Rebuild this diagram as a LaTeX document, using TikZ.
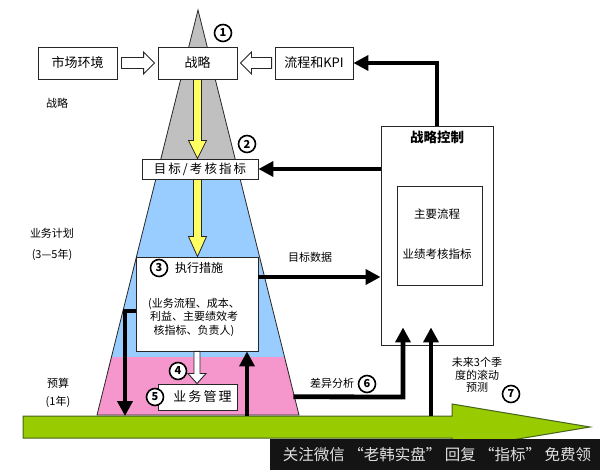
\documentclass[tikz,border=0pt]{standalone}
\usepackage{fontspec}
\setmainfont{Noto Sans CJK SC}
\usetikzlibrary{calc,arrows.meta}
\definecolor{pgray}{RGB}{192,192,192}
\definecolor{pblue}{RGB}{153,204,255}
\definecolor{ppink}{RGB}{245,150,205}
\definecolor{pyel}{RGB}{255,255,100}
\definecolor{pgreen}{RGB}{153,204,0}
\definecolor{pgreend}{RGB}{70,100,30}
\newcommand{\fsz}[1]{\fontsize{#1}{#1}\selectfont}
\begin{document}
\begin{tikzpicture}[x=1pt,y=-1pt,
  box/.style={draw=black!85, fill=white, line width=0.9pt, inner sep=0pt},
  num/.style={circle, draw=black, line width=1.6pt, fill=white, inner sep=0pt, minimum size=17pt, font=\fsz{11}\bfseries},
  lbl/.style={inner sep=0pt, font=\fsz{11}},
  thickarr/.style={line width=4.8pt, -{Triangle[length=15pt,width=15pt]}},
  hollow/.style={draw=black!85, fill=white, line width=0.9pt, line join=miter},
  yelarr/.style={draw=black!85, fill=pyel, line width=0.8pt, line join=miter}
]
\useasboundingbox (0,0) rectangle (600,470);
\fill[white] (0,0) rectangle (600,470);

% pyramid
\coordinate (apex) at (198,10);
\coordinate (pbl) at (97,415);
\coordinate (pbr) at (299,415);
\begin{scope}
  \clip (apex) -- (pbr) -- (pbl) -- cycle;
  \fill[pgray] (0,0) rectangle (600,169);
  \fill[pblue] (0,169) rectangle (600,357);
  \fill[ppink] (0,357) rectangle (600,416);
\end{scope}
\draw[black!85, line width=0.8pt] (apex) -- (pbr) -- (pbl) -- cycle;

% green time arrow
\draw[fill=pgreen, draw=pgreend, line width=1pt, line join=miter]
  (23,416) coordinate (gtl) -- (452,416) -- (452,404) -- (590,427) coordinate (gtip)
  -- (452,450) -- (452,438) -- (23,438) -- cycle;

% boxes
\node[box, minimum width=79pt, minimum height=32pt, font=\fsz{13}] (mkt) at (77.5,63) {市场环境};
\node[box, minimum width=79pt, minimum height=32pt, font=\fsz{13}] (str) at (197.5,63) {战略};
\node[box, minimum width=78pt, minimum height=32pt, font=\fsz{13}] (kpi) at (314,63) {流程和KPI};
\node[box, minimum width=116pt, minimum height=20pt, font=\fsz{12.5}] (goal) at (200,169) {目\,标\,/\,考\,核\,指\,标};
\node[box, minimum width=122pt, minimum height=94pt] (exec) at (197,304) {};
\node[box, minimum width=79pt, minimum height=26pt, font=\fsz{13}] (biz) at (197.5,397) {\hspace{10pt}业\,务\,管\,理};
\node[box, minimum width=112pt, minimum height=219pt] (ctrl) at (437,235.5) {};
\node[box, minimum width=85pt, minimum height=99pt] (inner) at (439.5,235.5) {};

% yellow arrows
\draw[yelarr] ($(str.south)+(-4,0)$) -- ($(str.south |- goal.north)+(-4,-18)$)
  -- ($(str.south |- goal.north)+(-9,-18)$) -- (str.south |- goal.north)
  -- ($(str.south |- goal.north)+(9,-18)$) -- ($(str.south |- goal.north)+(4,-18)$)
  -- ($(str.south)+(4,0)$) -- cycle;
\draw[yelarr] ($(str.south |- goal.south)+(-4,0)$) -- ($(str.south |- exec.north)+(-4,-20)$)
  -- ($(str.south |- exec.north)+(-9,-20)$) -- (str.south |- exec.north)
  -- ($(str.south |- exec.north)+(9,-20)$) -- ($(str.south |- exec.north)+(4,-20)$)
  -- ($(str.south |- goal.south)+(4,0)$) -- cycle;

% hollow arrows
\draw[hollow] ($(mkt.east)+(4,-5.5)$) -- ($(str.west)+(-14,-5.5)$) -- ($(str.west)+(-14,-11)$)
  -- ($(str.west)+(-3,0)$) -- ($(str.west)+(-14,11)$) -- ($(str.west)+(-14,5.5)$)
  -- ($(mkt.east)+(4,5.5)$) -- cycle;
\draw[hollow] ($(kpi.west)+(-3,-5.5)$) -- ($(str.east)+(14,-5.5)$) -- ($(str.east)+(14,-11)$)
  -- ($(str.east)+(3,0)$) -- ($(str.east)+(14,11)$) -- ($(str.east)+(14,5.5)$)
  -- ($(kpi.west)+(-3,5.5)$) -- cycle;
\draw[hollow] ($(exec.south)+(-3,0)$) -- ($(exec.south |- biz.north)+(-3,-10)$)
  -- ($(exec.south |- biz.north)+(-9,-10)$) -- (exec.south |- biz.north)
  -- ($(exec.south |- biz.north)+(9,-10)$) -- ($(exec.south |- biz.north)+(3,-10)$)
  -- ($(exec.south)+(3,0)$) -- cycle;

% texts inside boxes
\node[inner sep=0pt, font=\fsz{13.5}\bfseries] (ctrlt) at (437,137) {战略控制};
\node[lbl, font=\fsz{11.5}] (t1) at (437,214) {主要流程};
\node[lbl, font=\fsz{11.5}] (t2) at (437,254) {业绩考核指标};
\node[lbl, font=\fsz{12}] (exect) at (199,268) {执行措施};
\node[lbl, align=center, font=\fontsize{11}{13.5}\selectfont] (execd) at (194,317)
  {(业务流程、成本、\\利益、主要绩效考\\核指标、负责人)};

% side labels
\node[lbl] (lab1) at (57,103) {战略};
\node[lbl] (lab2) at (52,233) {业务计划};
\node[lbl] (lab3) at (52,255) {(3—5年)};
\node[lbl] (lab4) at (58,383) {预算};
\node[lbl] (lab5) at (58,402) {(1年)};
\node[lbl] (tgt) at (310,257) {目标数据};
\node[lbl] (diff) at (332,383) {差异分析};
\node[lbl, align=center, font=\fontsize{11}{12.5}\selectfont] (fc) at (477,375) {未来3个季\\度的滚动\\预测};

% thick black connectors
\draw[thickarr] (ctrl.north) |- (kpi.east);
\draw[thickarr] (ctrl.west |- goal.east) -- (goal.east);
\coordinate (ty) at (0,277);
\draw[thickarr] (exec.east |- ty) -- (ctrl.west |- ty);
\coordinate (lt) at (125,311);
\draw[thickarr] (exec.west |- lt) -- (lt) -- (lt |- gtl);
\coordinate (u1) at (247,416);
\draw[thickarr] (u1) -- (u1 |- exec.south);
\coordinate (dstart) at ($(apex)!0.955!(pbr)$);
\coordinate (dcorner) at (403,397);
\draw[thickarr] ($(dstart)+(-1,0)$) -- (dcorner) -- ($(dcorner |- ctrl.south)+(0,-18)$);
\coordinate (u2) at (431,416);
\draw[thickarr] (u2) -- ($(u2 |- ctrl.south)+(0,-18)$);

% numbered circles
\node[num] (c1) at (223,33) {1};
\node[num] (c2) at (247,144) {2};
\node[num] (c3) at (159,268) {3};
\node[num] (c4) at (178,371) {4};
\node[num] (c5) at (155,397) {5};
\node[num] (c6) at (367,384) {6};
\node[num] (c7) at (511,394) {7};

% watermark bar
\fill[black!92] (270,439) rectangle (600,470);
\node[inner sep=0pt, text=white!88!black, font=\fsz{15.5}] (wm) at (437,455) {关注微信\ “老韩实盘”\ 回复\ “指标”\ 免费领};
\end{tikzpicture}
\end{document}
